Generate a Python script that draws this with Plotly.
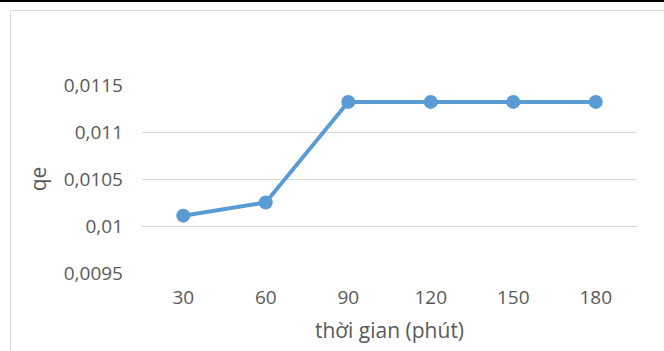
import plotly.graph_objects as go

# Data
categories = ["30", "60", "90", "120", "150", "180"]
qe_values = [0.01011, 0.01025, 0.01132, 0.01132, 0.01132, 0.01132]
y_tick_values = [0.0095, 0.01, 0.0105, 0.011, 0.0115]
y_tick_labels = ["0,0095", "0,01", "0,0105", "0,011", "0,0115"]

W, H = 664, 351
ML, MR, MT, MB = 142, 27, 85, 78
PW, PH = W - ML - MR, H - MT - MB

def px_x(p):
    return (p - ML) / PW

def px_y(p):
    return 1 - (p - MT) / PH

font_family = "Open Sans, Noto Sans, sans-serif"
gray = "#595959"

fig = go.Figure()
fig.add_trace(go.Scatter(
    x=categories, y=qe_values, mode="lines+markers",
    line=dict(color="#5B9BD5", width=4),
    marker=dict(color="#5B9BD5", size=14),
    cliponaxis=False, showlegend=False,
))

fig.update_layout(
    width=W, height=H,
    margin=dict(l=ML, r=MR, t=MT, b=MB, autoexpand=False),
    paper_bgcolor="white", plot_bgcolor="white",
    font=dict(family=font_family, color=gray, size=19),
    xaxis=dict(
        type="category", range=[-0.5, 5.5], showgrid=False, zeroline=False,
        showline=False, ticks="", tickfont=dict(size=19, color=gray),
        ticklabelstandoff=11,
        title=dict(text="thời gian (phút)", font=dict(size=21, color=gray), standoff=14),
        automargin=False,
    ),
    yaxis=dict(
        range=[0.0095, 0.0115], tickvals=y_tick_values, ticktext=y_tick_labels,
        showgrid=True, gridcolor="#d9d9d9", gridwidth=1, zeroline=False,
        showline=False, ticks="", tickfont=dict(size=19, color=gray),
        ticklabelstandoff=18,
        title=dict(text="qe", font=dict(size=21, color=gray), standoff=11),
        automargin=False,
    ),
    shapes=[
        dict(type="line", xref="paper", yref="paper",
             x0=px_x(0), x1=px_x(W), y0=px_y(1), y1=px_y(1),
             line=dict(color="black", width=2)),
        dict(type="rect", xref="paper", yref="paper",
             x0=px_x(10.5), x1=px_x(W + 5), y0=px_y(10.5), y1=px_y(H + 5),
             line=dict(color="#d9d9d9", width=1), layer="below"),
    ],
)

fig.write_html("out.html")
